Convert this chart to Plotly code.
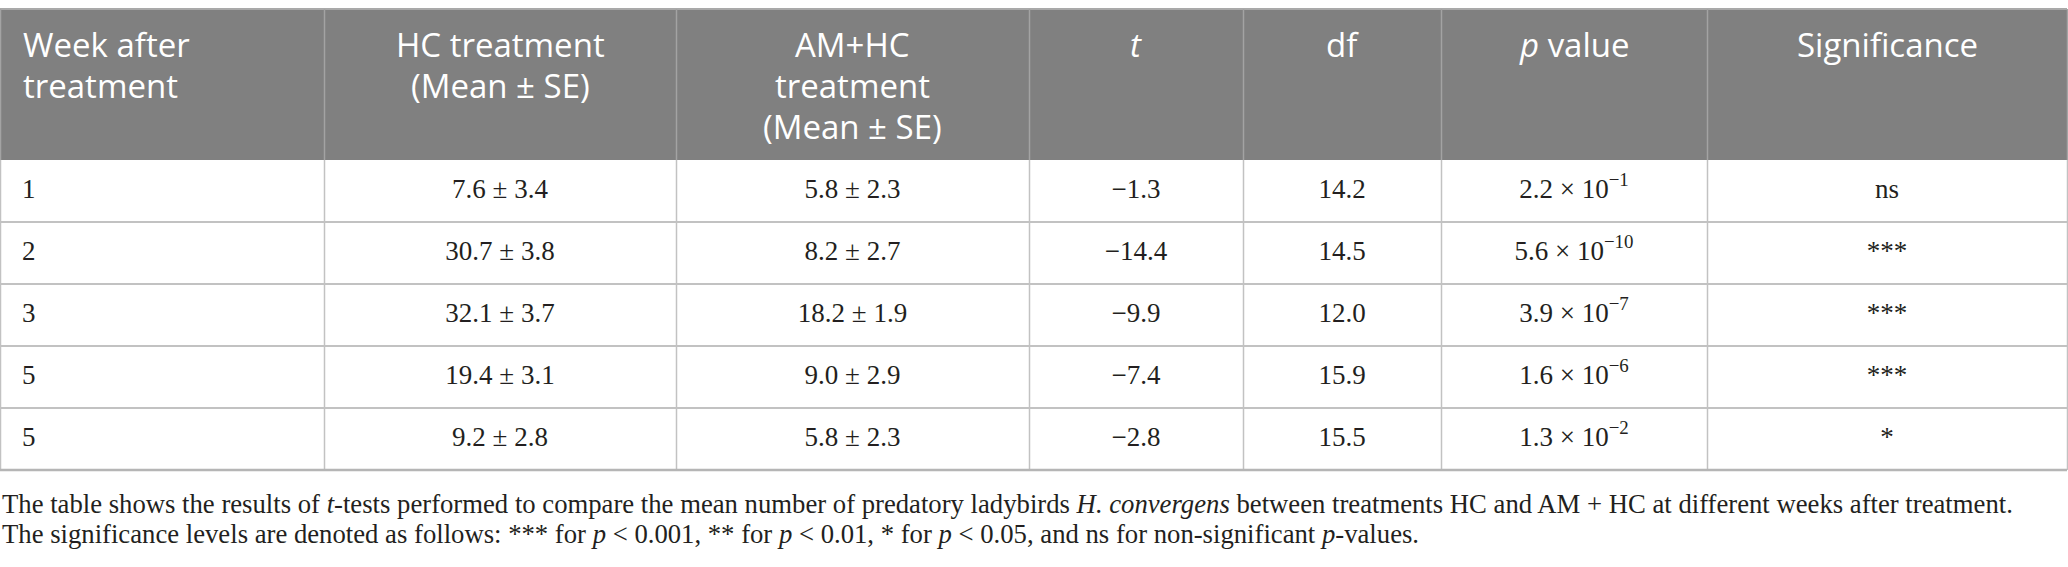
import plotly.graph_objects as go

# Table values
weeks = ["1", "2", "3", "5", "5"]
hc_mean = [7.6, 30.7, 32.1, 19.4, 9.2]
hc_se = [3.4, 3.8, 3.7, 3.1, 2.8]
am_mean = [5.8, 8.2, 18.2, 9.0, 5.8]
am_se = [2.3, 2.7, 1.9, 2.9, 2.3]
t_vals = [-1.3, -14.4, -9.9, -7.4, -2.8]
df_vals = [14.2, 14.5, 12.0, 15.9, 15.5]
p_mant = [2.2, 5.6, 3.9, 1.6, 1.3]
p_exp = [-1, -10, -7, -6, -2]
signif = ["ns", "***", "***", "***", "*"]

# header lines per column
headers = [
    ["Week after", "treatment"],
    ["HC treatment", "(Mean ± SE)"],
    ["AM+HC", "treatment", "(Mean ± SE)"],
    ["<i>t</i>"],
    ["df"],
    ["<i>p</i> value"],
    ["Significance"],
]

caption = [
    "The table shows the results of <i>t</i>-tests performed to compare the mean number of predatory ladybirds "
    "<i>H. convergens</i> between treatments HC and AM + HC at different weeks after treatment.",
    "The significance levels are denoted as follows: *** for <i>p</i> &lt; 0.001, ** for <i>p</i> &lt; 0.01, "
    "* for <i>p</i> &lt; 0.05, and ns for non-significant <i>p</i>-values.",
]

# layout in pixels
W, H = 2068, 567
col_edges = [0, 324, 676, 1029, 1243, 1441, 1707, 2067]
top, head_bottom, row_h = 9, 160, 62
n_rows = len(weeks)
table_bottom = head_bottom + n_rows * row_h

SERIF = "Liberation Serif, Times New Roman, serif"
SANS = "Open Sans, Noto Sans, sans-serif"
INK = "#231f20"


def num(v):
    return f"{v:.1f}".replace("-", "\u2212")


columns = [
    weeks,
    [f"{m:.1f} ± {s:.1f}" for m, s in zip(hc_mean, hc_se)],
    [f"{m:.1f} ± {s:.1f}" for m, s in zip(am_mean, am_se)],
    [num(v) for v in t_vals],
    [num(v) for v in df_vals],
    [f"{m:.1f} × 10<sup>{str(e).replace('-', chr(8722))}</sup>" for m, e in zip(p_mant, p_exp)],
    signif,
]

row_y = [head_bottom + row_h * (i + 0.5) for i in range(n_rows)]

fig = go.Figure()

for j, col in enumerate(columns):
    if j == 0:
        xs = [col_edges[0] + 22] * n_rows
        pos = "middle right"
    else:
        xs = [(col_edges[j] + col_edges[j + 1]) / 2] * n_rows
        pos = "middle center"
    fig.add_trace(go.Scatter(
        x=xs, y=row_y, text=col, mode="text", textposition=pos,
        textfont=dict(family=SERIF, size=27, color=INK),
        hoverinfo="skip", showlegend=False,
    ))

# header background and grid
fig.add_shape(type="rect", x0=0, x1=col_edges[-1], y0=top, y1=head_bottom,
              fillcolor="#808080", line_width=0, layer="below")
fig.add_shape(type="line", x0=0, x1=col_edges[-1], y0=top, y1=top,
              line=dict(color="#a9a9a9", width=2))
for x in col_edges:
    fig.add_shape(type="line", x0=x + 0.5, x1=x + 0.5, y0=top, y1=head_bottom,
                  line=dict(color="#a3a3a3", width=1.5))
    fig.add_shape(type="line", x0=x + 0.5, x1=x + 0.5, y0=head_bottom, y1=table_bottom,
                  line=dict(color="#c2c2c2", width=1.5))
for i in range(1, n_rows):
    y = head_bottom + i * row_h
    fig.add_shape(type="line", x0=0, x1=col_edges[-1], y0=y, y1=y,
                  line=dict(color="#c2c2c2", width=2))
fig.add_shape(type="line", x0=0, x1=col_edges[-1], y0=table_bottom, y1=table_bottom,
              line=dict(color="#b5b5b5", width=2.5))

# header labels, one annotation per line
for j, lines in enumerate(headers):
    if j == 0:
        x, anchor = col_edges[0] + 21, "left"
    else:
        x, anchor = (col_edges[j] + col_edges[j + 1]) / 2, "center"
    for k, txt in enumerate(lines):
        fig.add_annotation(x=x, y=20 + 41 * k, xref="x", yref="y", text=txt, showarrow=False,
                           xanchor=anchor, yanchor="top",
                           font=dict(family=SANS, size=33, color="white"))

# caption
for k, line in enumerate(caption):
    fig.add_annotation(x=0, y=504 + 30 * k, xref="x", yref="y", text=line, showarrow=False,
                       xanchor="left", yanchor="middle", align="left",
                       font=dict(family=SERIF, size=26.7, color=INK))

fig.update_xaxes(range=[0, W], visible=False, fixedrange=True)
fig.update_yaxes(range=[H, 0], visible=False, fixedrange=True)
fig.update_layout(
    width=W, height=H,
    margin=dict(l=0, r=0, t=0, b=0),
    paper_bgcolor="white", plot_bgcolor="white",
    showlegend=False,
)

fig.write_html("out.html", config={"displayModeBar": False},
               post_script="document.body.style.margin = '0';")
